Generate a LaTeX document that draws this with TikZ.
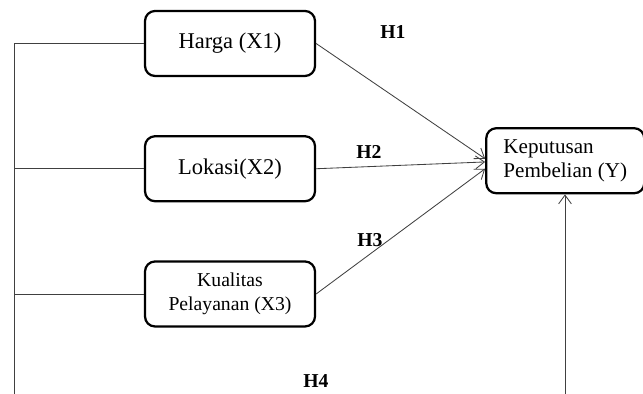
\documentclass[tikz,border=0pt]{standalone}
\usepackage{fontspec}
\setmainfont{Liberation Serif}
\usetikzlibrary{positioning,arrows.meta}

\begin{document}
\begin{tikzpicture}[
    node distance=1.45cm and 4.225cm,
    var/.style={rectangle, rounded corners=0.25cm, draw, line width=1.6pt, minimum width=4.25cm, minimum height=1.625cm, align=center},
    hipotesis/.style={font=\fontsize{14}{16}\selectfont\bfseries},
    garis/.style={line width=0.6pt, black!75},
    arrow/.style={-{Straight Barb[length=2.2mm, width=3.2mm]}, line width=0.6pt, black!75}
]
\useasboundingbox (0,0) rectangle (16.075,9.85);

% VARIABEL INDEPENDEN
\node[var, font=\fontsize{16}{19}\selectfont] (harga) at (5.75,8.7625) {Harga (X1)};
\node[var, font=\fontsize{16}{19}\selectfont, below=of harga] (lokasi) {Lokasi(X2)};
\node[var, font=\fontsize{14}{17}\selectfont, below=of lokasi] (kualitas) {Kualitas\\Pelayanan (X3)};

% VARIABEL DEPENDEN
\node[var, minimum width=3.95cm, align=left, font=\fontsize{15}{17}\selectfont, right=of lokasi, yshift=0.2cm] (keputusan) {Keputusan\\Pembelian (Y)};

% Titik bantu
\coordinate (kiri) at (0.35,0);
\coordinate (bawah) at (14.125,0);

% Hipotesis
\node[hipotesis] (h1) at (9.825,9.05) {H1};
\node[hipotesis] (h2) at (9.225,6.05) {H2};
\node[hipotesis] (h3) at (9.25,3.85) {H3};
\node[hipotesis] (h4) at (7.9,0.325) {H4};

% Garis simultan
\draw[garis] (kiri) |- (harga);
\draw[garis] (kiri |- lokasi) -- (lokasi);
\draw[garis] (kiri |- kualitas) -- (kualitas);

% Hubungan parsial
\draw[arrow] (harga.east) -- ([yshift=0.05cm]keputusan.west);
\draw[arrow] (lokasi.east) -- ([yshift=-0.03cm]keputusan.west);
\draw[arrow] (kualitas.east) -- ([yshift=-0.2cm]keputusan.west);
\draw[arrow] (bawah) -- (bawah |- keputusan.south);

\end{tikzpicture}
\end{document}
